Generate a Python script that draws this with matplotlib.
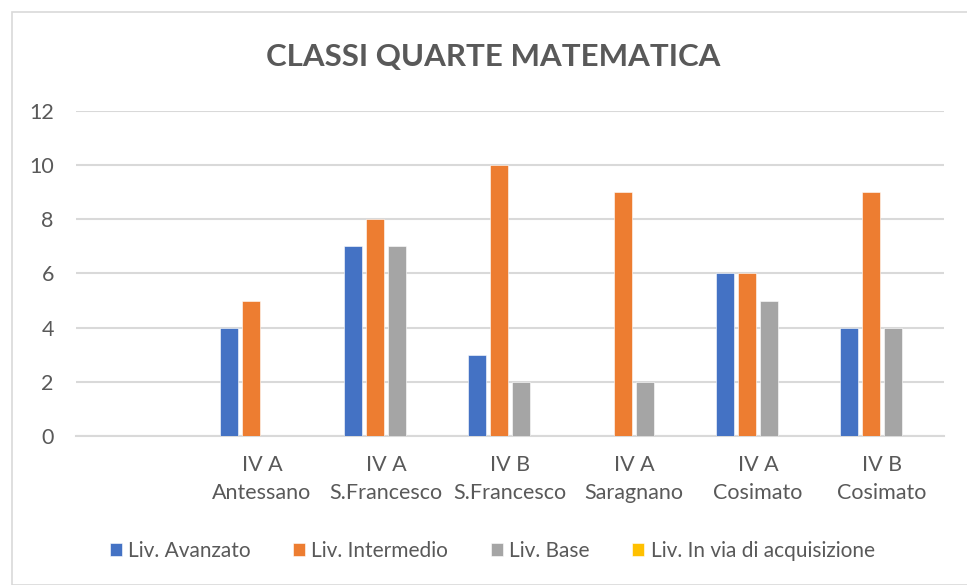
import numpy as np
import matplotlib.pyplot as plt
from matplotlib.patches import Rectangle

plt.rcParams['font.family'] = ['Lato', 'DejaVu Sans']

classi = ['', 'IV A\nAntessano', 'IV A\nS.Francesco', 'IV B\nS.Francesco',
          'IV A\nSaragnano', 'IV A\nCosimato', 'IV B\nCosimato']
avanzato = [0, 4, 7, 3, 0, 6, 4]
intermedio = [0, 5, 8, 10, 9, 6, 9]
base = [0, 0, 7, 2, 2, 5, 4]
in_acquisizione = [0, 0, 0, 0, 0, 0, 0]

serie = ['Liv. Avanzato', 'Liv. Intermedio', 'Liv. Base', 'Liv. In via di acquisizione']
colori = ['#4472C4', '#ED7D31', '#A5A5A5', '#FFC000']
valori = [avanzato, intermedio, base, in_acquisizione]

grigio = '#595959'

fig = plt.figure(figsize=(9.67, 5.85), dpi=100)
fig.patches.append(Rectangle((0.012, 0.0), 0.99, 0.98, transform=fig.transFigure,
                             fill=False, edgecolor='#d9d9d9', linewidth=1.2))
ax = fig.add_axes([0.0786, 0.2547, 0.8976, 0.5556])

x = np.arange(len(classi))
passo = 0.177
larg = 0.145
for i, (nome, col, val) in enumerate(zip(serie, colori, valori)):
    ax.bar(x + (i - 1.5) * passo, val, width=larg, color=col, label=nome,
           edgecolor='white', linewidth=0.4, zorder=3)

ax.set_xlim(-0.5, len(classi) - 0.5)
ax.set_ylim(0, 12)
ax.set_yticks(range(0, 13, 2))
ax.set_xticks(x)
ax.set_xticklabels(classi, linespacing=1.45)
ax.yaxis.grid(True, color='#d9d9d9', linewidth=1.5, zorder=0)
for s in ['top', 'right', 'left']:
    ax.spines[s].set_visible(False)
ax.spines['bottom'].set_color('#d9d9d9')
ax.spines['bottom'].set_linewidth(1.5)
ax.tick_params(axis='both', length=0, colors=grigio, labelsize=15.5)
ax.tick_params(axis='y', pad=16)
ax.tick_params(axis='x', pad=14)

fig.text(0.51, 0.902, 'CLASSI QUARTE MATEMATICA', ha='center', va='center',
         fontsize=22.5, fontweight='bold', color=grigio)

leg = fig.legend(loc='center', bbox_to_anchor=(0.509, 0.058), ncol=4, frameon=False,
                 fontsize=15, handlelength=0.57, handleheight=0.57, handletextpad=0.3,
                 columnspacing=2.05)
for t in leg.get_texts():
    t.set_color(grigio)

fig.savefig('out.png', dpi=100)
